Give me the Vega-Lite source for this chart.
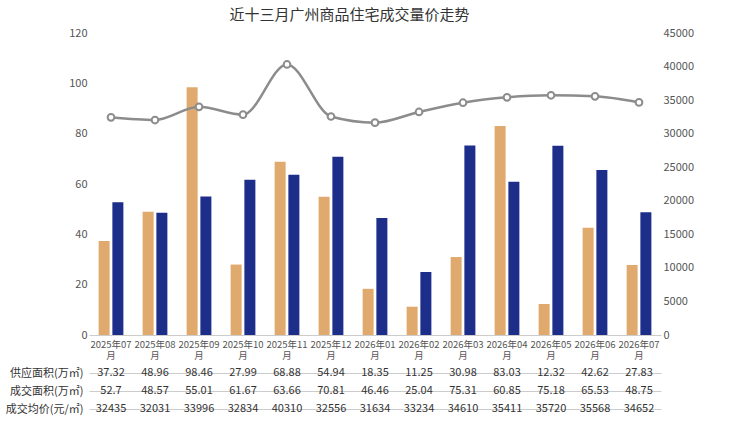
{
"$schema":"https://vega.github.io/schema/vega-lite/v6.json",
"padding":{"left":5,"right":5,"top":8,"bottom":2},
"background":"white",
"title":{"text":"近十三月广州商品住宅成交量价走势","fontSize":15,"font":"Noto Sans CJK SC","fontWeight":"normal","color":"#333","anchor":"middle"},
"config":{"font":"Noto Sans CJK SC","view":{"stroke":null},"axis":{"labelFont":"Noto Sans CJK SC","labelColor":"#555","labelFontSize":11}},
"datasets":{"d":[
{"m":"2025年07月","supply":37.32,"deal":52.7,"price":32435},
{"m":"2025年08月","supply":48.96,"deal":48.57,"price":32031},
{"m":"2025年09月","supply":98.46,"deal":55.01,"price":33996},
{"m":"2025年10月","supply":27.99,"deal":61.67,"price":32834},
{"m":"2025年11月","supply":68.88,"deal":63.66,"price":40310},
{"m":"2025年12月","supply":54.94,"deal":70.81,"price":32556},
{"m":"2026年01月","supply":18.35,"deal":46.46,"price":31634},
{"m":"2026年02月","supply":11.25,"deal":25.04,"price":33234},
{"m":"2026年03月","supply":30.98,"deal":75.31,"price":34610},
{"m":"2026年04月","supply":83.03,"deal":60.85,"price":35411},
{"m":"2026年05月","supply":12.32,"deal":75.18,"price":35720},
{"m":"2026年06月","supply":42.62,"deal":65.53,"price":35568},
{"m":"2026年07月","supply":27.83,"deal":48.75,"price":34652}
]},
"vconcat":[
{"width":572,"height":302,"data":{"name":"d"},
"layer":[
{"transform":[{"fold":["supply","deal"],"as":["k","v"]}],
"mark":{"type":"bar"},
"encoding":{
"x":{"field":"m","type":"nominal","sort":null,"scale":{"paddingInner":0,"paddingOuter":0},"axis":{"title":null,"labelAngle":0,"labelFontSize":9.5,"labelExpr":"[slice(datum.label,0,7),'月']","domain":true,"domainColor":"#ccc","ticks":false,"labelPadding":4}},
"xOffset":{"field":"k","sort":["supply","deal"],"scale":{"paddingInner":0.2,"paddingOuter":0.7}},
"y":{"field":"v","type":"quantitative","scale":{"domain":[0,120]},"axis":{"title":null,"tickCount":6,"domain":false,"ticks":false,"grid":false}},
"color":{"field":"k","legend":null,"scale":{"domain":["supply","deal"],"range":["#E0AA6E","#1C2E8A"]}}
}},
{"mark":{"type":"line","interpolate":"monotone","color":"#8C8C8C","strokeWidth":2.5,"point":{"filled":true,"fill":"white","stroke":"#8C8C8C","strokeWidth":2,"size":45}},
"encoding":{
"x":{"field":"m","type":"nominal","sort":null},
"y":{"field":"price","type":"quantitative","scale":{"domain":[0,45000]},"axis":{"title":null,"orient":"right","format":"d","tickCount":9,"domain":false,"ticks":false,"grid":false}}
}}
],
"resolve":{"scale":{"y":"independent"}}
},
{"width":572,"height":54,"data":{"name":"d"},
"transform":[{"fold":["supply","deal","price"],"as":["k","v"]},
{"lookup":"k","from":{"data":{"values":[{"k":"supply","n":"供应面积(万㎡)","o":1},{"k":"deal","n":"成交面积(万㎡)","o":2},{"k":"price","n":"成交均价(元/㎡)","o":3}]},"key":"k","fields":["n","o"]}}],
"mark":{"type":"text","fontSize":11,"color":"#333"},
"encoding":{
"x":{"field":"m","type":"nominal","sort":null,"axis":null},
"y":{"field":"n","type":"nominal","sort":{"field":"o"},"axis":{"title":null,"domain":false,"ticks":false,"grid":true,"gridColor":"#ccc","labelColor":"#333","labelAlign":"right","labelPadding":6}},
"text":{"field":"v","type":"quantitative"}
}}
],
"spacing":4
}
